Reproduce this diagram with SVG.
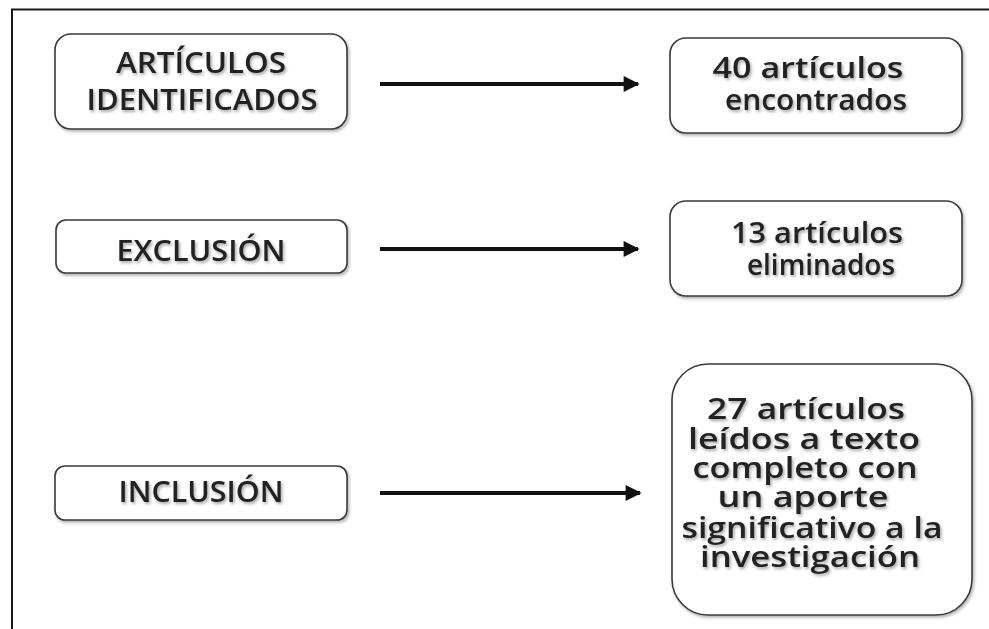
<svg xmlns="http://www.w3.org/2000/svg" width="989" height="629" viewBox="0 0 989 629">
<style>
.box{fill:#fff;stroke:#3a3a3a;stroke-width:1.6;filter:url(#sh)}
.t{font-family:"Open Sans","Noto Sans",sans-serif;font-size:28px;font-weight:600;fill:#222;text-anchor:middle;filter:url(#tsh)}
.c{stroke:#111;stroke-width:4;fill:none;marker-end:url(#ah)}
.frame{stroke:#1a1a1a;stroke-width:2;fill:none}
</style>
<defs>
<filter id="sh" x="-10%" y="-10%" width="120%" height="130%">
<feDropShadow dx="1.5" dy="2" stdDeviation="1.5" flood-color="#000" flood-opacity="0.3"/>
</filter>
<filter id="tsh" x="-10%" y="-20%" width="120%" height="150%">
<feDropShadow dx="1.5" dy="2" stdDeviation="1.4" flood-color="#000" flood-opacity="0.35"/>
</filter>
<marker id="ah" viewBox="0 0 10 10" refX="9" refY="5" markerWidth="5" markerHeight="4" orient="auto" markerUnits="strokeWidth">
<path d="M0,0 L10,5 L0,10 z" fill="#111"/>
</marker>
</defs>
<rect width="989" height="629" fill="#fff"/>
<path class="frame" d="M12,629 V9.5 H989"/>
<g id="connectors">
<line class="c" x1="380" y1="84" x2="638" y2="84"/>
<line class="c" x1="380" y1="249" x2="638" y2="249"/>
<line class="c" x1="380" y1="493" x2="640" y2="493"/>
</g>
<g id="n1">
<rect class="box" x="55" y="34" width="292" height="95" rx="16"/>
<text class="t" x="201" y="73" textLength="170" lengthAdjust="spacingAndGlyphs">ARTÍCULOS</text>
<text class="t" x="202" y="110" textLength="231" lengthAdjust="spacingAndGlyphs">IDENTIFICADOS</text>
</g>
<g id="n2">
<rect class="box" x="56" y="220" width="291" height="53" rx="10"/>
<text class="t" x="201" y="261" textLength="169" lengthAdjust="spacingAndGlyphs">EXCLUSIÓN</text>
</g>
<g id="n3">
<rect class="box" x="55" y="466" width="292" height="54" rx="10"/>
<text class="t" x="201" y="502" textLength="165" lengthAdjust="spacingAndGlyphs">INCLUSIÓN</text>
</g>
<g id="n4">
<rect class="box" x="670" y="38" width="292" height="95" rx="16"/>
<text class="t" x="808" y="78" textLength="191" lengthAdjust="spacingAndGlyphs">40 artículos</text>
<text class="t" x="816" y="110" textLength="182" lengthAdjust="spacingAndGlyphs">encontrados</text>
</g>
<g id="n5">
<rect class="box" x="670" y="201" width="292" height="95" rx="16"/>
<text class="t" x="817" y="243" textLength="172" lengthAdjust="spacingAndGlyphs">13 artículos</text>
<text class="t" x="821" y="275" textLength="148" lengthAdjust="spacingAndGlyphs">eliminados</text>
</g>
<g id="n6">
<rect class="box" x="672" y="364" width="300" height="251" rx="36"/>
<text class="t" x="806" y="419" textLength="198" lengthAdjust="spacingAndGlyphs">27 artículos</text>
<text class="t" x="804" y="449" textLength="232" lengthAdjust="spacingAndGlyphs">leídos a texto</text>
<text class="t" x="805" y="478" textLength="225" lengthAdjust="spacingAndGlyphs">completo con</text>
<text class="t" x="803" y="507" textLength="171" lengthAdjust="spacingAndGlyphs">un aporte</text>
<text class="t" x="812" y="538" textLength="261" lengthAdjust="spacingAndGlyphs">significativo a la</text>
<text class="t" x="810" y="567" textLength="220" lengthAdjust="spacingAndGlyphs">investigación</text>
</g>
</svg>
